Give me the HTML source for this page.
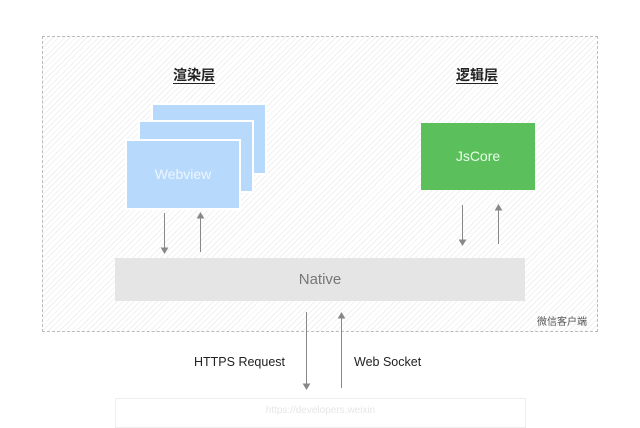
<!DOCTYPE html>
<html><head><meta charset="utf-8"><style>
body{margin:0;width:640px;height:414px;background:#fff;position:relative;overflow:hidden;font-family:"Liberation Sans","Noto Sans CJK SC",sans-serif}
.c{position:absolute;left:42px;top:36px;width:554px;height:294px;border:1px dashed #bbb;background:repeating-linear-gradient(135deg,#fff 0 3px,#f1f1f1 3px 4px)}
.b{position:absolute;box-sizing:border-box}
.w{background:#b7dafc;border:2px solid #fff}
.t{position:absolute;font-size:14px;font-weight:bold;color:#222;text-decoration:underline;text-underline-offset:3px}
</style></head><body>
<div class="c"></div>
<div class="t" style="left:173px;top:65px">渲染层</div>
<div class="t" style="left:456px;top:65px">逻辑层</div>
<div class="b w" style="left:151px;top:103px;width:116px;height:72px"></div>
<div class="b w" style="left:138px;top:120px;width:116px;height:73px"></div>
<div class="b w" style="left:125px;top:139px;width:116px;height:71px;color:#eef6ff;font-size:14px;text-align:center;line-height:67px">Webview</div>
<div class="b" style="left:421px;top:123px;width:114px;height:67px;background:#5bbf5b;color:#eaffea;font-size:14px;text-align:center;line-height:67px">JsCore</div>
<div class="b" style="left:115px;top:258px;width:410px;height:43px;background:#e5e5e5;color:#777;font-size:15px;text-align:center;line-height:43px">Native</div>
<div style="position:absolute;left:537px;top:313px;font-size:10px;color:#555">微信客户端</div>
<div style="position:absolute;left:194px;top:355px;font-size:12.5px;color:#222">HTTPS Request</div>
<div style="position:absolute;left:354px;top:355px;font-size:12.5px;color:#222">Web Socket</div>
<div class="b" style="left:115px;top:398px;width:411px;height:30px;border:1px solid #eee;color:#e6e6e6;font-size:10px;text-align:center;padding-top:6px">https://developers.weixin</div>
<svg width="640" height="414" style="position:absolute;left:0;top:0">
<g stroke="#888" stroke-width="1" fill="#888">
<line x1="164.5" y1="213" x2="164.5" y2="250"/><path d="M161.5 248 L164.5 253 L167.5 248Z"/>
<line x1="200.5" y1="216" x2="200.5" y2="252"/><path d="M197.5 218 L200.5 213 L203.5 218Z"/>
<line x1="462.5" y1="205" x2="462.5" y2="242"/><path d="M459.5 240 L462.5 245 L465.5 240Z"/>
<line x1="498.5" y1="208" x2="498.5" y2="244"/><path d="M495.5 210 L498.5 205 L501.5 210Z"/>
<line x1="306.5" y1="312" x2="306.5" y2="386"/><path d="M303.5 384 L306.5 389 L309.5 384Z"/>
<line x1="341.5" y1="316" x2="341.5" y2="388"/><path d="M338.5 318 L341.5 313 L344.5 318Z"/>
</g></svg>
</body></html>
